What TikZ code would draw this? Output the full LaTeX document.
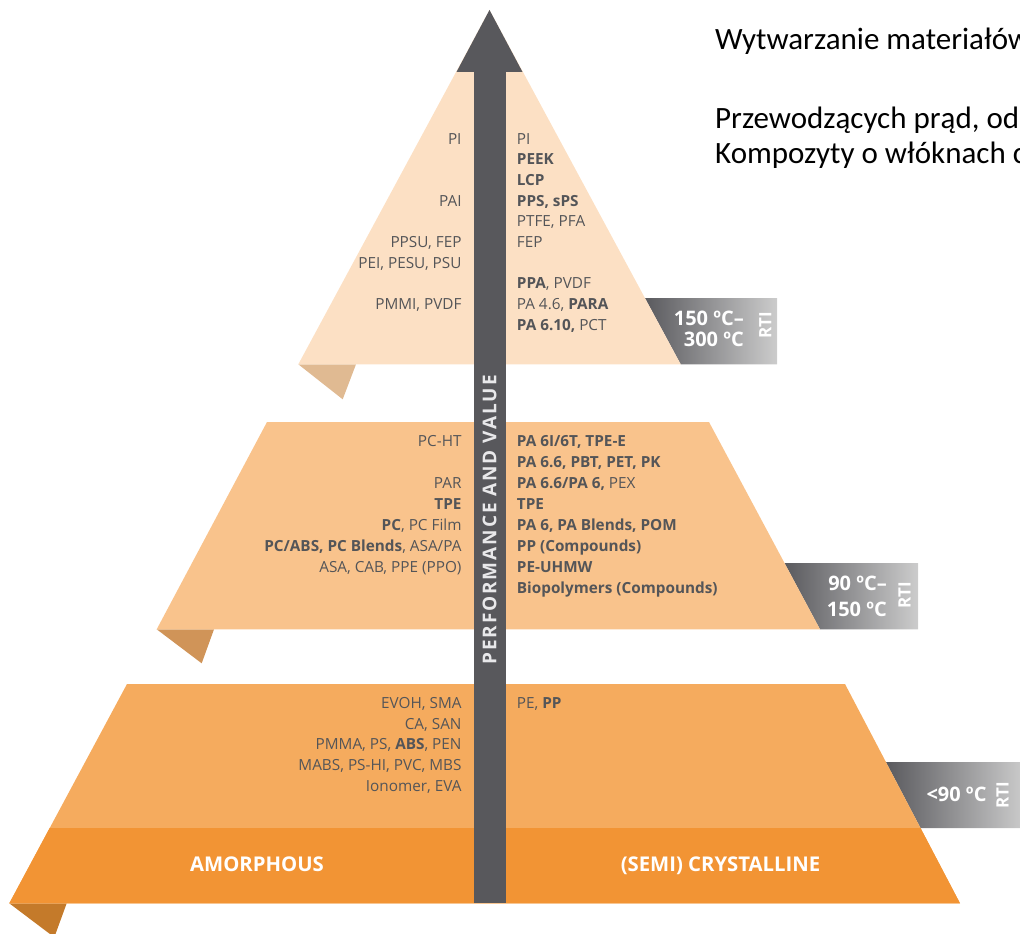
\documentclass[tikz,border=0pt]{standalone}
\usepackage{fontspec}
\newfontfamily\osans{Open Sans}
\newfontfamily\osanssp[LetterSpace=10]{Open Sans}
\newfontfamily\carl{Carlito}
\definecolor{tierA}{RGB}{252,224,196}
\definecolor{tierB}{RGB}{249,195,140}
\definecolor{tierC}{RGB}{245,171,94}
\definecolor{bandC}{RGB}{242,148,52}
\definecolor{flapA}{RGB}{224,186,146}
\definecolor{flapB}{RGB}{208,148,88}
\definecolor{flapC}{RGB}{196,122,42}
\definecolor{arrowgray}{RGB}{88,88,92}
\definecolor{txtgray}{RGB}{84,85,88}
\definecolor{rtidark}{RGB}{90,90,94}
\definecolor{rtilight}{RGB}{204,204,204}
\definecolor{vtext}{RGB}{232,232,234}
\begin{document}
\begin{tikzpicture}[x=1pt,y=-1pt,
  lbl/.style={font=\osans\fontsize{15.3}{18}\selectfont, text=txtgray, inner sep=0pt},
  lleft/.style={lbl, anchor=base east},
  lright/.style={lbl, anchor=base west},
  rtitemp/.style={font=\osans\bfseries\fontsize{20}{23}\selectfont, text=white, inner sep=0pt, anchor=base east},
  rtitag/.style={font=\osans\bfseries\fontsize{17}{20}\selectfont, text=white, inner sep=0pt, rotate=90, anchor=center},
  classlbl/.style={font=\osans\bfseries\fontsize{20.3}{23}\selectfont, text=white, inner sep=0pt, anchor=base},
  heading/.style={font=\carl\fontsize{31}{35}\selectfont, text=black, inner sep=0pt, anchor=base west},
  rtibox/.style={left color=rtidark, right color=rtilight}
]
\useasboundingbox (0,0) rectangle (1020,934);
\clip (0,0) rectangle (1020,934);

% RTI boxes (behind the tiers)
\shade[rtibox] (644.9,298) -- (777,298) -- (777,364.3) -- (680.7,364.3) -- cycle;
\shade[rtibox] (784.5,563) -- (918,563) -- (918,629.3) -- (820,629.3) -- cycle;
\shade[rtibox] (885.9,762) -- (1025,762) -- (1025,828) -- (920.5,828) -- cycle;

% folded flaps
\fill[flapA] (298.3,364.3) -- (356,364.3) -- (342.7,399.3) -- cycle;
\fill[flapB] (156.7,629.3) -- (214,629.3) -- (201.7,663.3) -- cycle;
\fill[flapC] (9.3,903.3) -- (66.7,903.3) -- (54.3,937.3) -- cycle;

% tiers
\fill[tierA] (489.5,10) -- (680.7,364.3) -- (298.3,364.3) -- cycle;
\fill[tierB] (267,422) -- (709,422) -- (820,629.3) -- (156.7,629.3) -- cycle;
\fill[tierC] (127,684) -- (845,684) -- (960,903.3) -- (9.3,903.3) -- cycle;
\fill[bandC] (49.7,828) -- (920.5,828) -- (960,903.3) -- (9.3,903.3) -- cycle;

% arrow
\fill[arrowgray] (474.3,71) rectangle (506,903.3);
\fill[arrowgray] (489.5,10) -- (522.5,72) -- (456.5,72) -- cycle;
\node[font=\osanssp\bfseries\fontsize{19}{22}\selectfont, text=vtext, inner sep=0pt, rotate=90, anchor=base] (perf) at (496.3,520) {PERFORMANCE AND VALUE};

% top tier labels
\node[lleft] (tl1) at (461.7,144) {PI};
\node[lleft] (tl2) at (461.7,206.1) {PAI};
\node[lleft] (tl3) at (461.7,247.5) {PPSU, FEP};
\node[lleft] (tl4) at (461.7,268.2) {PEI, PESU, PSU};
\node[lleft] (tl5) at (461.7,309.6) {PMMI, PVDF};
\node[lright] (tr1) at (516.7,144) {PI};
\node[lright] (tr2) at (516.7,164.7) {\bfseries PEEK};
\node[lright] (tr3) at (516.7,185.4) {\bfseries LCP};
\node[lright] (tr4) at (516.7,206.1) {\bfseries PPS, sPS};
\node[lright] (tr5) at (516.7,226.8) {PTFE, PFA};
\node[lright] (tr6) at (516.7,247.5) {FEP};
\node[lright] (tr7) at (516.7,288.9) {\textbf{PPA}, PVDF};
\node[lright] (tr8) at (516.7,309.6) {PA 4.6, \textbf{PARA}};
\node[lright] (tr9) at (516.7,330.3) {\textbf{PA 6.10,} PCT};

% middle tier labels
\node[lleft] (ml1) at (461.7,446.7) {PC-HT};
\node[lleft] (ml2) at (461.7,488.5) {PAR};
\node[lleft] (ml3) at (461.7,509.4) {\bfseries TPE};
\node[lleft] (ml4) at (461.7,530.3) {\textbf{PC}, PC Film};
\node[lleft] (ml5) at (461.7,551.2) {\textbf{PC/ABS, PC Blends}, ASA/PA};
\node[lleft] (ml6) at (461.7,572.1) {ASA, CAB, PPE (PPO)};
\node[lright] (mr1) at (516.7,446.7) {\bfseries PA 6I/6T, TPE-E};
\node[lright] (mr2) at (516.7,467.6) {\bfseries PA 6.6, PBT, PET, PK};
\node[lright] (mr3) at (516.7,488.5) {\textbf{PA 6.6/PA 6,} PEX};
\node[lright] (mr4) at (516.7,509.4) {\bfseries TPE};
\node[lright] (mr5) at (516.7,530.3) {\bfseries PA 6, PA Blends, POM};
\node[lright] (mr6) at (516.7,551.2) {\bfseries PP (Compounds)};
\node[lright] (mr7) at (516.7,572.1) {\bfseries PE-UHMW};
\node[lright] (mr8) at (516.7,593.0) {\bfseries Biopolymers (Compounds)};

% bottom tier labels
\node[lleft] (bl1) at (461.7,708.3) {EVOH, SMA};
\node[lleft] (bl2) at (461.7,729.1) {CA, SAN};
\node[lleft] (bl3) at (461.7,749.9) {PMMA, PS, \textbf{ABS}, PEN};
\node[lleft] (bl4) at (461.7,770.7) {MABS, PS-HI, PVC, MBS};
\node[lleft] (bl5) at (461.7,791.5) {Ionomer, EVA};
\node[lright] (br1) at (516.7,708.3) {PE, \textbf{PP}};

% class labels
\node[classlbl] (amor) at (257,871.7) {AMORPHOUS};
\node[classlbl] (semi) at (720.5,871.7) {(SEMI) CRYSTALLINE};

% RTI labels
\node[rtitemp] (t1a) at (744,325) {150 ºC–};
\node[rtitemp] (t1b) at (744,346.7) {300 ºC};
\node[rtitag] (r1) at (765.3,325) {RTI};
\node[rtitemp] (t2a) at (887,590) {90 ºC–};
\node[rtitemp] (t2b) at (887,616) {150 ºC};
\node[rtitag] (r2) at (904.5,595.5) {RTI};
\node[rtitemp] (t3a) at (986.7,801.7) {<90 ºC};
\node[rtitag] (r3) at (1002.5,795) {RTI};

% heading text (cut at the right edge, as in the reference)
\node[heading] (h1) at (715,50) {Wytwarzanie materiałów};
\node[heading] (h2) at (715,128.3) {Przewodzących prąd, od};
\node[heading] (h3) at (715,163.3) {Kompozyty o włóknach c};
\end{tikzpicture}
\end{document}
